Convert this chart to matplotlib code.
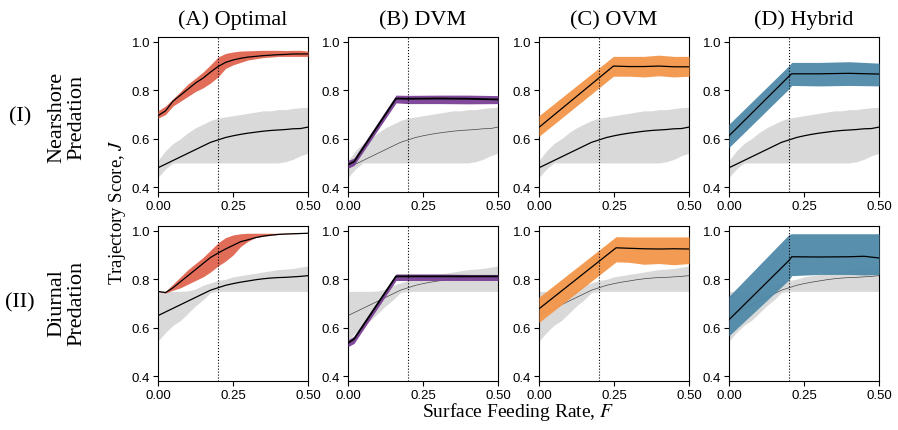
import matplotlib
matplotlib.use("Agg")
import matplotlib.pyplot as plt
import numpy as np

plt.rcParams['font.family'] = ['Liberation Serif', 'DejaVu Serif']
plt.rcParams['mathtext.fontset'] = 'stix'

# common feeding-rate grid used by the curved series
F = [0.0, 0.025, 0.05, 0.075, 0.1, 0.125, 0.15, 0.175, 0.2, 0.225, 0.25,
     0.275, 0.3, 0.325, 0.35, 0.375, 0.4, 0.425, 0.45, 0.475, 0.5]

# random-trajectory baseline, nearshore predation
rand_near_mean = [0.48, 0.495, 0.51, 0.525, 0.54, 0.555, 0.57, 0.585, 0.595, 0.605, 0.612,
                  0.618, 0.623, 0.627, 0.631, 0.634, 0.636, 0.638, 0.641, 0.642, 0.648]
rand_near_hi = [0.51, 0.55, 0.58, 0.60, 0.625, 0.645, 0.66, 0.675, 0.685, 0.69, 0.695,
                0.70, 0.705, 0.71, 0.715, 0.715, 0.72, 0.72, 0.725, 0.728, 0.73]
rand_near_lo = [0.44, 0.475, 0.50, 0.50, 0.50, 0.50, 0.50, 0.50, 0.50, 0.50, 0.50,
                0.50, 0.50, 0.50, 0.50, 0.50, 0.50, 0.505, 0.515, 0.53, 0.54]

# random-trajectory baseline, diurnal predation
rand_diur_mean = [0.65, 0.665, 0.68, 0.695, 0.71, 0.725, 0.74, 0.755, 0.765, 0.775, 0.782,
                  0.788, 0.793, 0.798, 0.802, 0.805, 0.807, 0.808, 0.81, 0.812, 0.815]
rand_diur_hi = [0.75, 0.75, 0.75, 0.75, 0.752, 0.76, 0.775, 0.785, 0.795, 0.80, 0.81,
                0.815, 0.82, 0.825, 0.83, 0.835, 0.84, 0.842, 0.845, 0.85, 0.855]
rand_diur_lo = [0.545, 0.58, 0.61, 0.63, 0.66, 0.69, 0.715, 0.745, 0.75, 0.75, 0.75,
                0.75, 0.75, 0.75, 0.75, 0.75, 0.75, 0.75, 0.75, 0.75, 0.75]

# (A) optimal
opt_near_mean = [0.695, 0.715, 0.755, 0.78, 0.805, 0.83, 0.85, 0.875, 0.898, 0.915, 0.925,
                 0.932, 0.937, 0.94, 0.943, 0.945, 0.947, 0.948, 0.95, 0.95, 0.95]
opt_near_hi = [0.715, 0.735, 0.765, 0.795, 0.826, 0.85, 0.875, 0.905, 0.937, 0.952, 0.958,
               0.962, 0.963, 0.964, 0.965, 0.965, 0.965, 0.964, 0.965, 0.965, 0.962]
opt_near_lo = [0.685, 0.70, 0.735, 0.755, 0.775, 0.795, 0.81, 0.83, 0.855, 0.89, 0.905,
               0.915, 0.925, 0.93, 0.935, 0.937, 0.94, 0.94, 0.94, 0.94, 0.94]
opt_diur_mean = [0.75, 0.745, 0.765, 0.79, 0.815, 0.84, 0.865, 0.89, 0.908, 0.925, 0.94,
                 0.955, 0.963, 0.972, 0.978, 0.982, 0.985, 0.987, 0.988, 0.989, 0.99]
opt_diur_hi = [0.75, 0.75, 0.78, 0.81, 0.84, 0.865, 0.89, 0.92, 0.95, 0.972, 0.983,
               0.988, 0.99, 0.99, 0.99, 0.99, 0.99, 0.99, 0.99, 0.99, 0.99]
opt_diur_lo = [0.75, 0.743, 0.755, 0.765, 0.78, 0.795, 0.81, 0.83, 0.855, 0.875, 0.90,
               0.935, 0.957, 0.972, 0.978, 0.982, 0.985, 0.987, 0.988, 0.989, 0.99]

# (B) DVM
dvm_near_F = [0.0, 0.02, 0.16, 0.2, 0.3, 0.4, 0.5]
dvm_near_mean = [0.493, 0.505, 0.766, 0.765, 0.766, 0.765, 0.762]
dvm_near_hi = [0.51, 0.52, 0.78, 0.779, 0.78, 0.78, 0.778]
dvm_near_lo = [0.478, 0.49, 0.748, 0.745, 0.745, 0.744, 0.745]
dvm_diur_F = [0.0, 0.02, 0.16, 0.3, 0.4, 0.5]
dvm_diur_mean = [0.537, 0.553, 0.812, 0.812, 0.812, 0.812]
dvm_diur_hi = [0.55, 0.565, 0.822, 0.822, 0.82, 0.82]
dvm_diur_lo = [0.522, 0.535, 0.795, 0.795, 0.795, 0.795]

# (C) OVM
ovm_near_F = [0.0, 0.248, 0.3, 0.35, 0.4, 0.45, 0.5]
ovm_near_mean = [0.647, 0.90, 0.898, 0.898, 0.90, 0.897, 0.897]
ovm_near_hi = [0.695, 0.94, 0.94, 0.94, 0.945, 0.94, 0.94]
ovm_near_lo = [0.61, 0.858, 0.858, 0.855, 0.86, 0.855, 0.858]
ovm_diur_F = [0.0, 0.257, 0.3, 0.35, 0.4, 0.45, 0.5]
ovm_diur_mean = [0.678, 0.93, 0.928, 0.926, 0.925, 0.926, 0.925]
ovm_diur_hi = [0.726, 0.976, 0.975, 0.975, 0.975, 0.975, 0.975]
ovm_diur_lo = [0.622, 0.872, 0.87, 0.862, 0.865, 0.86, 0.865]

# (D) hybrid
hyb_near_F = [0.0, 0.2, 0.209, 0.3, 0.4, 0.5]
hyb_near_mean = [0.612, 0.858, 0.868, 0.868, 0.87, 0.867]
hyb_near_hi = [0.66, 0.902, 0.915, 0.915, 0.918, 0.912]
hyb_near_lo = [0.564, 0.806, 0.82, 0.818, 0.82, 0.818]
hyb_diur_F = [0.0, 0.2, 0.209, 0.3, 0.4, 0.45, 0.5]
hyb_diur_mean = [0.633, 0.878, 0.893, 0.892, 0.893, 0.895, 0.888]
hyb_diur_hi = [0.73, 0.985, 0.988, 0.988, 0.988, 0.988, 0.988]
hyb_diur_lo = [0.567, 0.798, 0.815, 0.82, 0.82, 0.818, 0.82]

titles = ['(A) Optimal', '(B) DVM', '(C) OVM', '(D) Hybrid']
colours = ['#E0644F', '#7A4096', '#F4964A', '#4F89A9']
F_crit = 0.2

near = [(F, opt_near_mean, opt_near_lo, opt_near_hi),
        (dvm_near_F, dvm_near_mean, dvm_near_lo, dvm_near_hi),
        (ovm_near_F, ovm_near_mean, ovm_near_lo, ovm_near_hi),
        (hyb_near_F, hyb_near_mean, hyb_near_lo, hyb_near_hi)]
diur = [(F, opt_diur_mean, opt_diur_lo, opt_diur_hi),
        (dvm_diur_F, dvm_diur_mean, dvm_diur_lo, dvm_diur_hi),
        (ovm_diur_F, ovm_diur_mean, ovm_diur_lo, ovm_diur_hi),
        (hyb_diur_F, hyb_diur_mean, hyb_diur_lo, hyb_diur_hi)]
rand = [(rand_near_mean, rand_near_lo, rand_near_hi),
        (rand_diur_mean, rand_diur_lo, rand_diur_hi)]

# thin baseline line where it sits over the strategy band
thin = [[False, True, False, False], [False, True, True, True]]

fig = plt.figure(figsize=(8.98, 4.31), dpi=100)

lefts = [158, 348, 539, 729]
bottoms = [193, 382]
W, H = 150, 155

for r, rows in enumerate([near, diur]):
    for c in range(4):
        ax = fig.add_axes([lefts[c]/898, 1 - bottoms[r]/431, W/898, H/431])
        rm, rlo, rhi = rand[r]
        ax.fill_between(F, rlo, rhi, color='#D9D9D9', lw=0, zorder=1)
        if thin[r][c]:
            ax.plot(F, rm, color='#444444', lw=0.5, zorder=2)
        else:
            ax.plot(F, rm, color='k', lw=0.9, zorder=2)

        x, m, lo, hi = rows[c]
        ax.fill_between(x, lo, hi, color=colours[c], lw=0, alpha=0.95, zorder=3)
        ax.plot(x, m, color='k', lw=1.3 if c == 1 else 0.9, zorder=4)
        ax.axvline(F_crit, color='k', ls=':', lw=0.8, zorder=5)

        ax.set_xlim(0, 0.5)
        ax.set_ylim(0.38, 1.02)
        ax.set_xticks([0, 0.25, 0.5])
        ax.set_xticklabels(['0.00', '0.25', '0.50'])
        ax.set_yticks([0.4, 0.6, 0.8, 1.0])
        ax.set_yticklabels(['0.4', '0.6', '0.8', '1.0'])
        for lab in ax.get_xticklabels() + ax.get_yticklabels():
            lab.set_fontfamily('Liberation Sans')
            lab.set_fontsize(9.5)
        ax.tick_params(length=3.5, width=0.8, pad=2)
        if r == 0:
            ax.set_title(titles[c], fontsize=16, pad=9)

fig.text(20/898, 1 - 117/431, '(I)', fontsize=16, ha='center', va='center')
fig.text(67/898, 1 - 117/431, 'Nearshore\nPredation', fontsize=16, rotation=90,
         ha='center', va='center', multialignment='center', linespacing=1.05)
fig.text(20/898, 1 - 303/431, '(II)', fontsize=16, ha='center', va='center')
fig.text(67/898, 1 - 303/431, 'Diurnal\nPredation', fontsize=16, rotation=90,
         ha='center', va='center', multialignment='center', linespacing=1.05)
fig.text(118/898, 1 - 212/431, 'Trajectory Score, $J$', fontsize=13.5, rotation=90,
         ha='center', va='center')
fig.text(518/898, 1 - 412/431, 'Surface Feeding Rate, $F$', fontsize=14,
         ha='center', va='center')

fig.savefig('out.png', dpi=100)
